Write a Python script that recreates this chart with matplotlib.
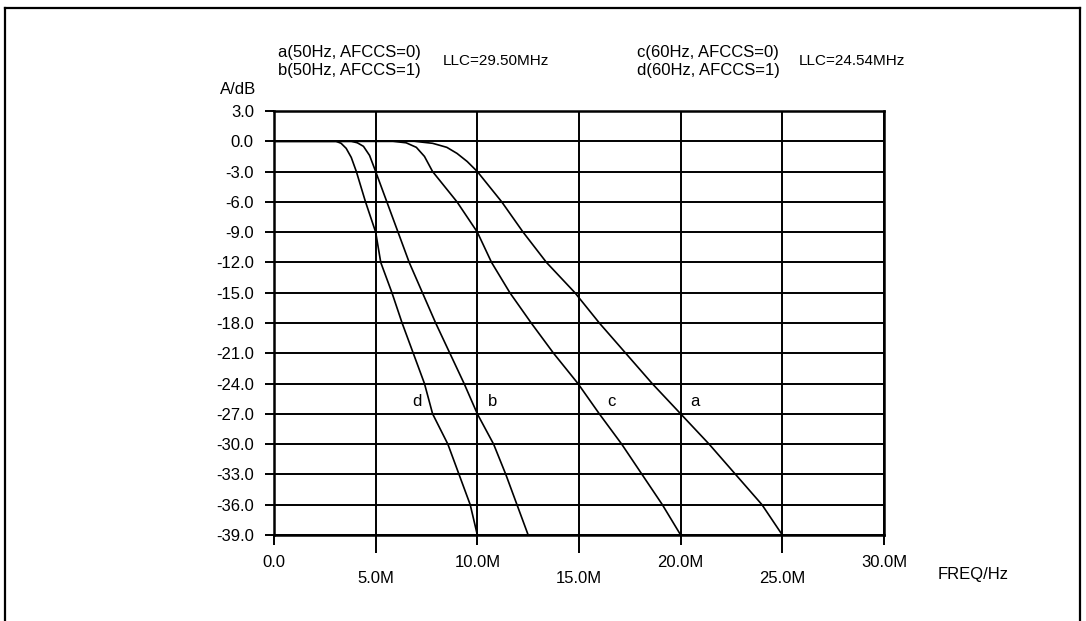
import matplotlib
matplotlib.use("Agg")
import matplotlib.pyplot as plt
from matplotlib.lines import Line2D
from matplotlib.ticker import FixedLocator

plt.rcParams['font.family'] = ['Liberation Sans', 'DejaVu Sans']

# Frequency response curves (frequency in MHz, attenuation in dB)
a_freq = [0, 6.9, 7.8, 8.5, 9.0, 9.5, 10.0, 11.2, 12.25, 13.4, 14.8, 16.0, 17.3, 18.6, 20.0, 21.4, 22.7, 24.0, 25.0]
a_db = [0, 0, -0.2, -0.6, -1.2, -2.0, -3, -6, -9, -12, -15, -18, -21, -24, -27, -30, -33, -36, -39]
b_freq = [0, 3.8, 4.1, 4.4, 4.7, 5.0, 5.55, 6.1, 6.65, 7.3, 7.95, 8.65, 9.35, 10.0, 10.8, 11.4, 11.95, 12.5]
b_db = [0, 0, -0.15, -0.5, -1.4, -3, -6, -9, -12, -15, -18, -21, -24, -27, -30, -33, -36, -39]
c_freq = [0, 5.85, 6.5, 7.0, 7.4, 7.8, 9.0, 10.0, 10.7, 11.6, 12.65, 13.75, 14.95, 16.0, 17.1, 18.1, 19.1, 20.0]
c_db = [0, 0, -0.15, -0.6, -1.5, -3, -6, -9, -12, -15, -18, -21, -24, -27, -30, -33, -36, -39]
d_freq = [0, 3.05, 3.3, 3.55, 3.8, 4.05, 4.5, 5.0, 5.25, 5.8, 6.3, 6.85, 7.4, 7.8, 8.55, 9.1, 9.65, 10.0]
d_db = [0, 0, -0.2, -0.7, -1.6, -3, -6, -9, -12, -15, -18, -21, -24, -27, -30, -33, -36, -39]

curve_names = ['a', 'b', 'c', 'd']
curve_label_x = [20.7, 10.75, 16.6, 7.05]
curve_label_y = -25.8

y_ticks = [3, 0, -3, -6, -9, -12, -15, -18, -21, -24, -27, -30, -33, -36, -39]
y_tick_labels = ['3.0', '0.0', '-3.0', '-6.0', '-9.0', '-12.0', '-15.0', '-18.0',
                 '-21.0', '-24.0', '-27.0', '-30.0', '-33.0', '-36.0', '-39.0']
x_upper_ticks = [0, 10, 20, 30]
x_upper_labels = ['0.0', '10.0M', '20.0M', '30.0M']
x_lower_ticks = [5, 15, 25]
x_lower_labels = ['5.0M', '15.0M', '25.0M']

W, H = 1086, 621
fig = plt.figure(figsize=(W / 100, H / 100), dpi=100)
fig.patch.set_facecolor('white')

# outer frame
for xs, ys in [([5, 5], [8, 621]), ([1080, 1080], [8, 621]), ([5, 1080], [8, 8])]:
    fig.add_artist(Line2D([x / W for x in xs], [1 - y / H for y in ys],
                          color='black', lw=1.6, transform=fig.transFigure))

ax = fig.add_axes([274 / W, 1 - 535 / H, 610 / W, 424 / H])
ax.set_xlim(0, 30)
ax.set_ylim(-39, 3)

for f, v in [(a_freq, a_db), (b_freq, b_db), (c_freq, c_db), (d_freq, d_db)]:
    ax.plot(f, v, color='black', lw=1.2, solid_joinstyle='round', zorder=3)

for name, lx in zip(curve_names, curve_label_x):
    ax.text(lx, curve_label_y, name, fontsize=12, ha='center', va='center')

ax.set_yticks(y_ticks)
ax.set_yticklabels(y_tick_labels)
ax.xaxis.set_major_locator(FixedLocator(x_upper_ticks))
ax.set_xticklabels(x_upper_labels)
ax.xaxis.set_minor_locator(FixedLocator(x_lower_ticks))
ax.set_xticklabels(x_lower_labels, minor=True)

ax.tick_params(axis='y', which='major', length=6.5, width=1.4, pad=8, labelsize=12)
ax.tick_params(axis='x', which='major', length=7.5, width=1.4, pad=7, labelsize=12)
ax.tick_params(axis='x', which='minor', length=13, width=1.4, pad=13, labelsize=12)

ax.grid(True, which='both', color='black', lw=1.4)
for s in ax.spines.values():
    s.set_linewidth(1.8)
ax.set_axisbelow(True)

# axis titles and legend texts
def ptext(x, y, s, **kw):
    fig.text(x / W, 1 - y / H, s, **kw)

ptext(220, 90, 'A/dB', fontsize=12, ha='left', va='center')
ptext(938, 574, 'FREQ/Hz', fontsize=12, ha='left', va='center')
ptext(278, 52, 'a(50Hz, AFCCS=0)', fontsize=12, ha='left', va='center')
ptext(278, 70, 'b(50Hz, AFCCS=1)', fontsize=12, ha='left', va='center')
ptext(443, 61, 'LLC=29.50MHz', fontsize=11, ha='left', va='center')
ptext(637, 52, 'c(60Hz, AFCCS=0)', fontsize=12, ha='left', va='center')
ptext(637, 70, 'd(60Hz, AFCCS=1)', fontsize=12, ha='left', va='center')
ptext(799, 61, 'LLC=24.54MHz', fontsize=11, ha='left', va='center')

fig.savefig('out.png', dpi=100, facecolor='white')
